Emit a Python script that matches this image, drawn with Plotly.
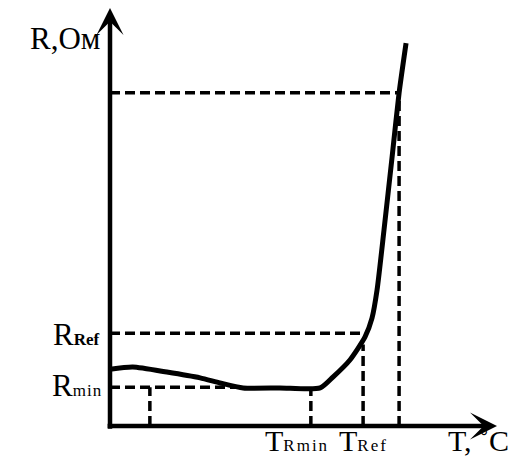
import plotly.graph_objects as go

# Curve R(T) in arbitrary units (T: 0..100, R: 0..100)
curve_T = [0.0, 5.9, 14.7, 23.3, 28.4, 34.4, 43.9, 54.3, 57.6, 62.0, 65.9, 67.7, 69.0, 70.8, 72.9, 74.7, 76.5]
curve_R = [13.6, 14.1, 12.9, 11.5, 10.3, 9.1, 9.1, 9.1, 11.7, 15.8, 21.3, 25.8, 32.5, 46.9, 64.4, 79.7, 91.6]

# Reference levels
T_low = 10.3
T_rmin = 51.9
T_ref = 65.4
T_top = 74.7
R_min = 9.3
R_ref = 22.2
R_top = 79.7
R_ref_end_T = 66.4
R_min_end_T = 34.0
T_ref_top_R = 19.5

FONT = "Liberation Serif"
dash = "10px,5px"

fig = go.Figure()

def dashed(xs, ys):
    fig.add_trace(go.Scatter(x=xs, y=ys, mode="lines",
                             line=dict(color="black", width=3.5, dash=dash),
                             hoverinfo="skip", showlegend=False))

# horizontal dashed
dashed([0, T_top], [R_top, R_top])
dashed([0, R_ref_end_T], [R_ref, R_ref])
dashed([0, R_min_end_T], [R_min, R_min])
# vertical dashed
dashed([T_top, T_top], [0, R_top])
dashed([T_ref, T_ref], [0, T_ref_top_R])
dashed([T_rmin, T_rmin], [0, R_min])
dashed([T_low, T_low], [0, R_min])

# curve
fig.add_trace(go.Scatter(x=curve_T, y=curve_R, mode="lines",
                         line=dict(color="black", width=5, shape="spline", smoothing=0.6),
                         hoverinfo="skip", showlegend=False))

ann = []
# axes with arrows
ann.append(dict(x=100, y=0, ax=-1, ay=0, xref="x", yref="y", axref="x", ayref="y",
                text="", showarrow=True, arrowhead=3, arrowwidth=4.5, arrowsize=1.0,
                arrowcolor="black", standoff=0))
ann.append(dict(x=0, y=100, ax=0, ay=-1, xref="x", yref="y", axref="x", ayref="y",
                text="", showarrow=True, arrowhead=3, arrowwidth=4.5, arrowsize=1.0,
                arrowcolor="black", standoff=0))

big = dict(family=FONT, size=31, color="black")
bottom_font = dict(family=FONT, size=30, color="black")
sub_style = "font-size:17px"

ann.append(dict(x=0, y=R_top + 13, xref="x", yref="y", xanchor="right", yanchor="middle",
                xshift=-8, text="R,Ом", showarrow=False, font=big))
ann.append(dict(x=0, y=R_ref, xref="x", yref="y", xanchor="right", yanchor="middle",
                xshift=-8, yshift=-1,
                text="R<span style='%s;font-weight:bold'>Ref</span>" % sub_style,
                showarrow=False, font=big))
ann.append(dict(x=0, y=R_min, xref="x", yref="y", xanchor="right", yanchor="middle",
                xshift=-6, yshift=2,
                text="R<span style='%s;letter-spacing:1px'>min</span>" % sub_style,
                showarrow=False, font=big))
ann.append(dict(x=T_rmin, y=0, xref="x", yref="y", xanchor="center", yanchor="top",
                xshift=-14, yshift=3, borderpad=0,
                text="T<span style='%s;letter-spacing:2px'>Rmin</span>" % sub_style,
                showarrow=False, font=bottom_font))
ann.append(dict(x=T_ref, y=0, xref="x", yref="y", xanchor="center", yanchor="top",
                xshift=0, yshift=3, borderpad=0,
                text="T<span style='%s;letter-spacing:2px'>Ref</span>" % sub_style,
                showarrow=False, font=bottom_font))
ann.append(dict(x=100, y=0, xref="x", yref="y", xanchor="right", yanchor="top",
                xshift=13, yshift=3, borderpad=0,
                text="T, ˚C", showarrow=False, font=bottom_font))

fig.update_layout(
    width=510, height=463,
    margin=dict(l=110, r=13, t=8, b=37),
    paper_bgcolor="white", plot_bgcolor="white",
    xaxis=dict(range=[0, 100], visible=False, fixedrange=True),
    yaxis=dict(range=[0, 100], visible=False, fixedrange=True),
    annotations=ann,
    showlegend=False,
)
fig.write_html("out.html", config={"displayModeBar": False},
               post_script="document.body.style.margin='0px';document.body.style.overflow='hidden';")
